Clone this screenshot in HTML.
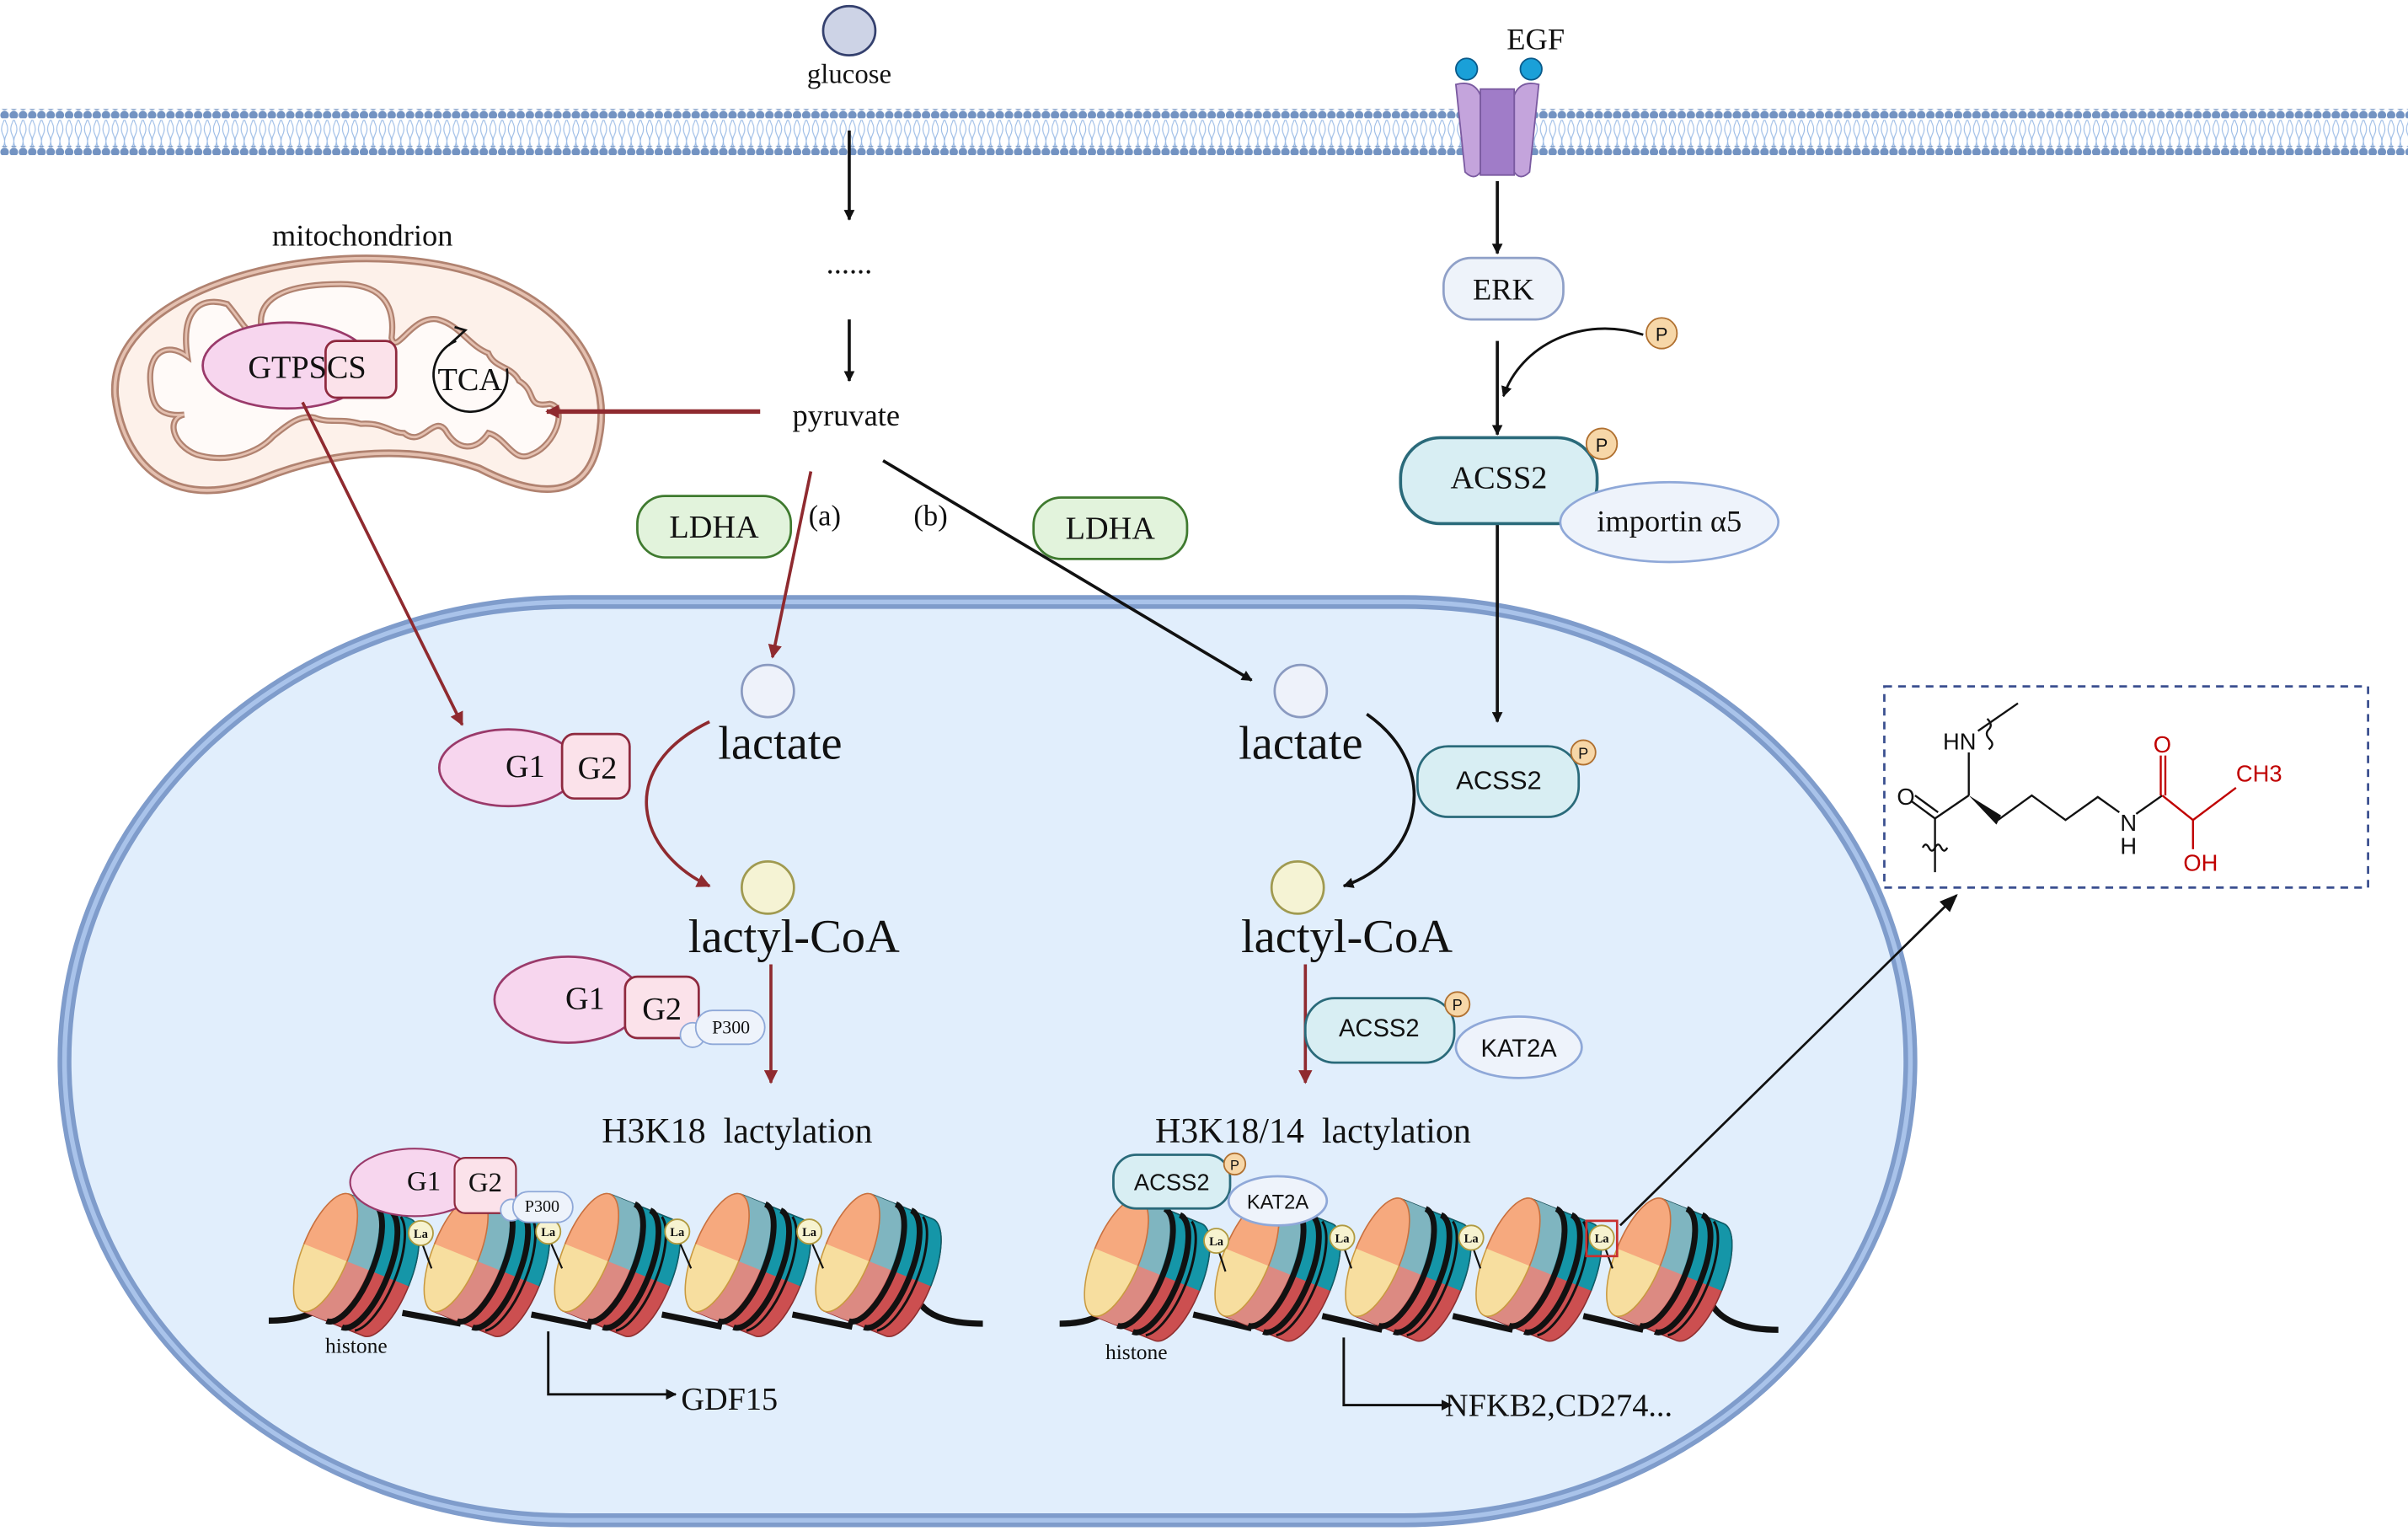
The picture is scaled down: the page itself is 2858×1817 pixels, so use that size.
<!DOCTYPE html>
<html><head><meta charset="utf-8"><style>
html,body{margin:0;padding:0;background:#fff}
svg{display:block}
text{font-family:"Liberation Serif",serif;fill:#111;white-space:pre}
.s{font-family:"Liberation Sans",sans-serif}
</style></head><body>
<svg width="2858" height="1817" viewBox="0 0 1568 997" preserveAspectRatio="none" xmlns="http://www.w3.org/2000/svg">
<defs>
<marker id="ab" viewBox="0 0 10 10" refX="9" refY="5" markerWidth="7" markerHeight="7" orient="auto-start-reverse" markerUnits="userSpaceOnUse"><path d="M0,0 L10,5 L0,10 z" fill="#111"/></marker>
<marker id="ar" viewBox="0 0 10 10" refX="9" refY="5" markerWidth="9" markerHeight="9" orient="auto" markerUnits="userSpaceOnUse"><path d="M0,0 L10,5 L0,10 z" fill="#8f2a2f"/></marker>
<marker id="abS" viewBox="0 0 10 10" refX="9" refY="5" markerWidth="12" markerHeight="12" orient="auto" markerUnits="userSpaceOnUse"><path d="M0,1 L10,5 L0,9 z" fill="#111"/></marker>
<pattern id="dots" x="0" y="0" width="6" height="6" patternUnits="userSpaceOnUse"><circle cx="3" cy="3" r="2.8" fill="#7393c2"/></pattern>
<pattern id="tails" x="0" y="0" width="6" height="16" patternUnits="userSpaceOnUse"><path d="M2,0 Q0,4 2,8 Q4,12 2,16 M4,0 Q6,4 4,8 Q2,12 4,16" stroke="#9cbce6" stroke-width="0.6" fill="none"/></pattern>
<clipPath id="top"><rect x="-60" y="-70" width="120" height="70"/></clipPath>
<g id="nuc">
 <g transform="rotate(22) scale(1.08)">
  <path d="M-18,-38 L22,-38 A14,38 0 0 1 22,38 L-18,38 Z" fill="#cc4f50" stroke="#8f2f30" stroke-width="0.8"/>
  <path d="M-18,-38 L22,-38 A14,38 0 0 1 22,38 L-18,38 Z" fill="#1596a8" stroke="#0d5f6a" stroke-width="0.8" clip-path="url(#top)"/>
  <path d="M-16,-38 L-4,-38 A14,38 0 0 1 -4,38 L-16,38 Z" fill="#dc8a82"/>
  <path d="M-16,-38 L-4,-38 A14,38 0 0 1 -4,38 L-16,38 Z" fill="#7fb5c0" clip-path="url(#top)"/>
  <path d="M-2,-38 A14,38 0 0 1 -2,38" stroke="#111" stroke-width="3.5" fill="none"/>
  <path d="M8,-38 A14,38 0 0 1 8,38" stroke="#111" stroke-width="3.5" fill="none"/>
  <path d="M16,-37 A14,38 0 0 1 16,37" stroke="#111" stroke-width="1.5" fill="none"/>
  <ellipse cx="-18" cy="0" rx="14" ry="38" fill="#f7de9f" stroke="#c99a40" stroke-width="0.8"/>
  <ellipse cx="-18" cy="0" rx="14" ry="38" fill="#f6a97e" stroke="#c97040" stroke-width="0.8" clip-path="url(#top)"/>
 </g>
</g>
<g id="la"><circle r="8" fill="#f7f3d0" stroke="#b09a40" stroke-width="1"/><text y="3" text-anchor="middle" font-size="8" font-weight="bold">La</text></g>
</defs>

<!-- cell -->
<rect x="42" y="392" width="1202" height="598" rx="330" ry="299" fill="#e1eefc" stroke="#7f9ccb" stroke-width="9"/>
<rect x="42" y="392" width="1202" height="598" rx="330" ry="299" fill="none" stroke="#a9c3ea" stroke-width="3"/>

<!-- membrane -->
<rect x="0" y="78" width="1568" height="18" fill="url(#tails)"/>
<rect x="0" y="71" width="1568" height="6" fill="url(#dots)"/>
<rect x="0" y="95" width="1568" height="6" fill="url(#dots)"/>

<!-- glucose -->
<ellipse cx="553" cy="20" rx="17" ry="16" fill="#cdd3e6" stroke="#34406e" stroke-width="1.5"/>
<text x="553" y="54" font-size="18" text-anchor="middle">glucose</text>
<line x1="553" y1="85" x2="553" y2="143" stroke="#111" stroke-width="2" marker-end="url(#ab)"/>
<text x="553" y="178" font-size="20" text-anchor="middle">......</text>
<line x1="553" y1="208" x2="553" y2="248" stroke="#111" stroke-width="2" marker-end="url(#ab)"/>
<text x="551" y="277" font-size="20" text-anchor="middle">pyruvate</text>

<!-- EGF receptor -->
<text x="1000" y="32" font-size="20" text-anchor="middle">EGF</text>
<path d="M948,55 Q960,52 964,62 L964,112 Q960,118 954,112 Z" fill="#c4a4dc" stroke="#7a5aa0" stroke-width="1"/>
<path d="M1002,55 Q990,52 986,62 L986,112 Q990,118 996,112 Z" fill="#c4a4dc" stroke="#7a5aa0" stroke-width="1"/>
<rect x="964" y="58" width="22" height="56" fill="#a07cc8" stroke="#7a5aa0" stroke-width="1"/>
<ellipse cx="955" cy="45" rx="7" ry="7" fill="#1aa0d8" stroke="#0a5a8a"/>
<ellipse cx="997" cy="45" rx="7" ry="7" fill="#1aa0d8" stroke="#0a5a8a"/>
<line x1="975" y1="118" x2="975" y2="165" stroke="#111" stroke-width="2" marker-end="url(#ab)"/>
<rect x="940" y="168" width="78" height="40" rx="18" fill="#eef3fa" stroke="#8fa0c8" stroke-width="1.5"/>
<text x="979" y="195" font-size="20" text-anchor="middle">ERK</text>
<line x1="975" y1="222" x2="975" y2="283" stroke="#111" stroke-width="2" marker-end="url(#ab)"/>
<path d="M1070,218 C1030,205 990,225 979,258" stroke="#111" stroke-width="1.6" fill="none" marker-end="url(#ab)"/>
<circle cx="1082" cy="217" r="10" fill="#f7d7a8" stroke="#b07030"/><text x="1082" y="222" class="s" font-size="12" text-anchor="middle">P</text>
<line x1="975" y1="340" x2="975" y2="470" stroke="#111" stroke-width="2" marker-end="url(#ab)"/>
<rect x="912" y="285" width="128" height="56" rx="26" fill="#d8eef3" stroke="#2a6a7a" stroke-width="2"/>
<text x="976" y="318" font-size="21" text-anchor="middle">ACSS2</text>
<circle cx="1043" cy="289" r="10" fill="#f7d7a8" stroke="#b07030"/><text x="1043" y="294" class="s" font-size="12" text-anchor="middle">P</text>
<ellipse cx="1087" cy="340" rx="71" ry="26" fill="#eef3fb" stroke="#8fa8d8" stroke-width="1.5"/>
<text x="1087" y="346" font-size="20" text-anchor="middle">importin α5</text>

<!-- mitochondrion -->
<text x="236" y="160" font-size="20" text-anchor="middle">mitochondrion</text>
<path d="M75,258 C70,195 180,160 270,170 C360,180 400,235 390,285 C383,330 345,322 312,305 C270,290 220,292 170,312 C110,335 80,300 75,258 Z" fill="#fdf1ea" stroke="#b08270" stroke-width="5"/>
<path d="M75,258 C70,195 180,160 270,170 C360,180 400,235 390,285 C383,330 345,322 312,305 C270,290 220,292 170,312 C110,335 80,300 75,258 Z" fill="none" stroke="#e4c0b0" stroke-width="2"/>
<path d="M98,250 C96,230 108,222 122,232 C118,205 128,192 148,198 C160,212 162,222 170,212 C168,192 190,185 222,185 C245,185 258,195 255,220 C258,232 268,205 285,208 C300,212 305,225 318,230 C322,240 333,238 338,248 C350,255 342,266 358,263 C370,265 362,290 346,296 C334,302 330,285 318,282 C310,294 298,294 290,280 C282,270 275,292 263,282 C255,282 250,275 235,276 C220,272 215,276 205,272 C195,270 188,276 178,284 C168,295 148,302 128,296 C112,290 108,272 120,270 C100,272 99,260 98,250 Z" fill="#fffaf8" stroke="#b08270" stroke-width="4"/>
<path d="M98,250 C96,230 108,222 122,232 C118,205 128,192 148,198 C160,212 162,222 170,212 C168,192 190,185 222,185 C245,185 258,195 255,220 C258,232 268,205 285,208 C300,212 305,225 318,230 C322,240 333,238 338,248 C350,255 342,266 358,263 C370,265 362,290 346,296 C334,302 330,285 318,282 C310,294 298,294 290,280 C282,270 275,292 263,282 C255,282 250,275 235,276 C220,272 215,276 205,272 C195,270 188,276 178,284 C168,295 148,302 128,296 C112,290 108,272 120,270 C100,272 99,260 98,250 Z" fill="none" stroke="#e4c0b0" stroke-width="1.5"/>
<ellipse cx="187" cy="238" rx="55" ry="28" fill="#f7d6ee" stroke="#9a3a6a" stroke-width="1.5"/>
<rect x="212" y="222" width="46" height="37" rx="7" fill="#fbe2ea" stroke="#8f2a3f" stroke-width="1.5"/>
<text x="200" y="246" font-size="21" text-anchor="middle">GTPSCS</text>
<path d="M297,222 A24,24 0 1 0 330,240" stroke="#111" stroke-width="1.5" fill="none"/>
<path d="M292,225 L303,215 L296,213" stroke="#111" stroke-width="1.5" fill="none"/>
<text x="306" y="254" font-size="21" text-anchor="middle">TCA</text>
<line x1="495" y1="268" x2="356" y2="268" stroke="#8f2a2f" stroke-width="3" marker-end="url(#ar)"/>

<!-- LDHA -->
<rect x="415" y="323" width="100" height="40" rx="18" fill="#e2f3dc" stroke="#3f7a2f" stroke-width="1.5"/>
<text x="465" y="350" font-size="21" text-anchor="middle">LDHA</text>
<rect x="673" y="324" width="100" height="40" rx="18" fill="#e2f3dc" stroke="#3f7a2f" stroke-width="1.5"/>
<text x="723" y="351" font-size="21" text-anchor="middle">LDHA</text>
<text x="537" y="342" font-size="19" text-anchor="middle">(a)</text>
<text x="606" y="342" font-size="19" text-anchor="middle">(b)</text>

<!-- connectors from top into cell -->
<line x1="197" y1="262" x2="301" y2="472" stroke="#8f2a2f" stroke-width="2" marker-end="url(#ar)"/>
<line x1="528" y1="307" x2="503" y2="428" stroke="#8f2a2f" stroke-width="2" marker-end="url(#ar)"/>
<line x1="575" y1="300" x2="815" y2="443" stroke="#111" stroke-width="2" marker-end="url(#ab)"/>

<!-- left column -->
<ellipse cx="331" cy="500" rx="45" ry="25" fill="#f7d6ee" stroke="#9a3a6a" stroke-width="1.5"/>
<text x="342" y="506" font-size="21" text-anchor="middle">G1</text>
<rect x="366" y="478" width="44" height="42" rx="8" fill="#fbe2ea" stroke="#8f2a3f" stroke-width="1.5"/>
<text x="389" y="507" font-size="21" text-anchor="middle">G2</text>
<circle cx="500" cy="450" r="17" fill="#eef2fa" stroke="#8a9ac0" stroke-width="1.5"/>
<text x="508" y="494" font-size="31" text-anchor="middle">lactate</text>
<path d="M462,470 C400,500 415,555 462,577" stroke="#8f2a2f" stroke-width="2" fill="none" marker-end="url(#ar)"/>
<circle cx="500" cy="578" r="17" fill="#f5f3d4" stroke="#a09a50" stroke-width="1.5"/>
<text x="517" y="620" font-size="31" text-anchor="middle">lactyl-CoA</text>
<ellipse cx="370" cy="651" rx="48" ry="28" fill="#f7d6ee" stroke="#9a3a6a" stroke-width="1.5"/>
<text x="381" y="657" font-size="21" text-anchor="middle">G1</text>
<rect x="407" y="636" width="48" height="40" rx="8" fill="#fbe2ea" stroke="#8f2a3f" stroke-width="1.5"/>
<text x="431" y="664" font-size="21" text-anchor="middle">G2</text>
<circle cx="451" cy="674" r="8" fill="#eef3fb" stroke="#8fa8d8"/>
<rect x="453" y="658" width="45" height="22" rx="11" fill="#eef3fb" stroke="#8fa8d8"/>
<text x="476" y="673" font-size="12" text-anchor="middle">P300</text>
<line x1="502" y1="628" x2="502" y2="705" stroke="#8f2a2f" stroke-width="2" marker-end="url(#ar)"/>
<text x="480" y="744" font-size="23" text-anchor="middle">H3K18  lactylation</text>

<!-- right column -->
<circle cx="847" cy="450" r="17" fill="#eef2fa" stroke="#8a9ac0" stroke-width="1.5"/>
<text x="847" y="494" font-size="31" text-anchor="middle">lactate</text>
<path d="M890,465 C940,500 925,560 875,577" stroke="#111" stroke-width="2" fill="none" marker-end="url(#ab)"/>
<circle cx="845" cy="578" r="17" fill="#f5f3d4" stroke="#a09a50" stroke-width="1.5"/>
<text x="877" y="620" font-size="31" text-anchor="middle">lactyl-CoA</text>
<rect x="923" y="486" width="105" height="46" rx="20" fill="#d8eef3" stroke="#2a6a7a" stroke-width="1.5"/>
<text x="976" y="514" font-size="17" class="s" text-anchor="middle">ACSS2</text>
<circle cx="1031" cy="490" r="8" fill="#f7d7a8" stroke="#b07030"/><text x="1031" y="494" class="s" font-size="10" text-anchor="middle">P</text>
<line x1="850" y1="628" x2="850" y2="705" stroke="#8f2a2f" stroke-width="2" marker-end="url(#ar)"/>
<rect x="850" y="650" width="97" height="42" rx="19" fill="#d8eef3" stroke="#2a6a7a" stroke-width="1.5"/>
<text x="898" y="675" font-size="16" class="s" text-anchor="middle">ACSS2</text>
<circle cx="949" cy="654" r="8" fill="#f7d7a8" stroke="#b07030"/><text x="949" y="658" class="s" font-size="10" text-anchor="middle">P</text>
<ellipse cx="989" cy="682" rx="41" ry="20" fill="#eef3fb" stroke="#8fa8d8" stroke-width="1.5"/>
<text x="989" y="688" font-size="16" class="s" text-anchor="middle">KAT2A</text>
<text x="855" y="744" font-size="23" text-anchor="middle">H3K18/14  lactylation</text>

<!-- left chromatin -->
<path d="M175,860 Q200,860 210,850 M262,855 L300,862 M346,856 L385,864 M431,856 L470,864 M516,856 L555,864 M600,850 Q610,862 640,862" stroke="#111" stroke-width="4" fill="none"/>
<use href="#nuc" x="230" y="823"/><use href="#nuc" x="315" y="823"/><use href="#nuc" x="400" y="823"/><use href="#nuc" x="485" y="823"/><use href="#nuc" x="570" y="823"/>
<g stroke="#111" stroke-width="1.2"><line x1="275" y1="810" x2="281" y2="826"/><line x1="359" y1="810" x2="366" y2="826"/><line x1="443" y1="810" x2="450" y2="826"/><line x1="529" y1="810" x2="536" y2="826"/></g>
<use href="#la" x="274" y="803"/><use href="#la" x="357" y="802"/><use href="#la" x="441" y="802"/><use href="#la" x="527" y="802"/>
<ellipse cx="270" cy="770" rx="42" ry="22" fill="#f7d6ee" stroke="#9a3a6a" stroke-width="1.2"/>
<text x="276" y="775" font-size="18" text-anchor="middle">G1</text>
<rect x="296" y="754" width="40" height="36" rx="7" fill="#fbe2ea" stroke="#8f2a3f" stroke-width="1.2"/>
<text x="316" y="776" font-size="18" text-anchor="middle">G2</text>
<circle cx="333" cy="788" r="7" fill="#eef3fb" stroke="#8fa8d8"/>
<rect x="334" y="776" width="39" height="20" rx="10" fill="#eef3fb" stroke="#8fa8d8"/>
<text x="353" y="789" font-size="11" text-anchor="middle">P300</text>
<text x="232" y="881" font-size="14" text-anchor="middle">histone</text>
<path d="M357,867 L357,908 L440,908" stroke="#111" stroke-width="1.6" fill="none" marker-end="url(#ab)"/>
<text x="475" y="918" font-size="21" text-anchor="middle">GDF15</text>

<!-- right chromatin -->
<path d="M690,862 Q712,862 722,852 M777,856 L815,865 M861,857 L900,866 M946,857 L985,866 M1031,857 L1070,866 M1115,850 Q1125,866 1158,866" stroke="#111" stroke-width="4" fill="none"/>
<use href="#nuc" x="745" y="826"/><use href="#nuc" x="830" y="826"/><use href="#nuc" x="915" y="826"/><use href="#nuc" x="1000" y="826"/><use href="#nuc" x="1085" y="826"/>
<g stroke="#111" stroke-width="1.2"><line x1="793" y1="813" x2="798" y2="828"/><line x1="875" y1="812" x2="880" y2="826"/><line x1="959" y1="812" x2="964" y2="826"/><line x1="1045" y1="812" x2="1050" y2="826"/></g>
<use href="#la" x="792" y="808"/><use href="#la" x="874" y="806"/><use href="#la" x="958" y="806"/><use href="#la" x="1043" y="806"/>
<rect x="1033" y="795" width="20" height="23" fill="none" stroke="#c83030" stroke-width="1.5"/>
<rect x="725" y="752" width="76" height="35" rx="15" fill="#d8eef3" stroke="#2a6a7a" stroke-width="1.5"/>
<text x="763" y="775" font-size="15" class="s" text-anchor="middle">ACSS2</text>
<circle cx="804" cy="758" r="7" fill="#f7d7a8" stroke="#b07030"/><text x="804" y="762" class="s" font-size="9" text-anchor="middle">P</text>
<ellipse cx="832" cy="782" rx="32" ry="16" fill="#eef3fb" stroke="#8fa8d8" stroke-width="1.5"/>
<text x="832" y="787" font-size="13" class="s" text-anchor="middle">KAT2A</text>
<text x="740" y="885" font-size="14" text-anchor="middle">histone</text>
<path d="M875,871 L875,915 L945,915" stroke="#111" stroke-width="1.6" fill="none" marker-end="url(#ab)"/>
<text x="1015" y="922" font-size="21" text-anchor="middle">NFKB2,CD274...</text>
<line x1="1055" y1="798" x2="1274" y2="583" stroke="#111" stroke-width="1.5" marker-end="url(#abS)"/>

<!-- structure box -->
<rect x="1227" y="447" width="315" height="131" fill="#fff" stroke="#3a4f8f" stroke-width="1.5" stroke-dasharray="5,4"/>
<g stroke="#111" stroke-width="1.3" fill="none">
 <line x1="1282" y1="490" x2="1282" y2="518"/>
 <line x1="1288" y1="476" x2="1314" y2="458"/>
 <path d="M1294,468 q4,4 1,7 q-3,3 1,7 q3,3 -1,6"/>
 <line x1="1282" y1="518" x2="1260" y2="533"/>
 <line x1="1260" y1="533" x2="1245" y2="522"/><line x1="1262" y1="529" x2="1247" y2="518"/>
 <line x1="1260" y1="533" x2="1260" y2="568"/>
 <path d="M1252,552 q2,-4 4,0 q2,4 4,0 q2,-4 4,0 q2,4 4,0"/>
 <polyline points="1301,534 1323,518 1345,534 1366,519 1380,529"/>
 <line x1="1391" y1="530" x2="1408" y2="518"/>
</g>
<path d="M1282,518 L1303,531 L1300,537 Z" fill="#111"/>
<text x="1276" y="488" font-size="15" class="s" text-anchor="middle">HN</text>
<text x="1241" y="524" font-size="15" class="s" text-anchor="middle">O</text>
<text x="1386" y="541" font-size="15" class="s" text-anchor="middle">N</text>
<text x="1386" y="556" font-size="15" class="s" text-anchor="middle">H</text>
<g stroke="#c00000" stroke-width="1.3" fill="none">
 <line x1="1407" y1="518" x2="1407" y2="492"/><line x1="1410" y1="518" x2="1410" y2="492"/>
 <polyline points="1408,518 1428,534 1456,513"/>
 <line x1="1428" y1="534" x2="1428" y2="553"/>
</g>
<text x="1408" y="490" font-size="15" class="s" style="fill:#c00000" text-anchor="middle">O</text>
<text x="1456" y="509" font-size="15" class="s" style="fill:#c00000">CH3</text>
<text x="1433" y="567" font-size="15" class="s" style="fill:#c00000" text-anchor="middle">OH</text>
</svg>
</body></html>
